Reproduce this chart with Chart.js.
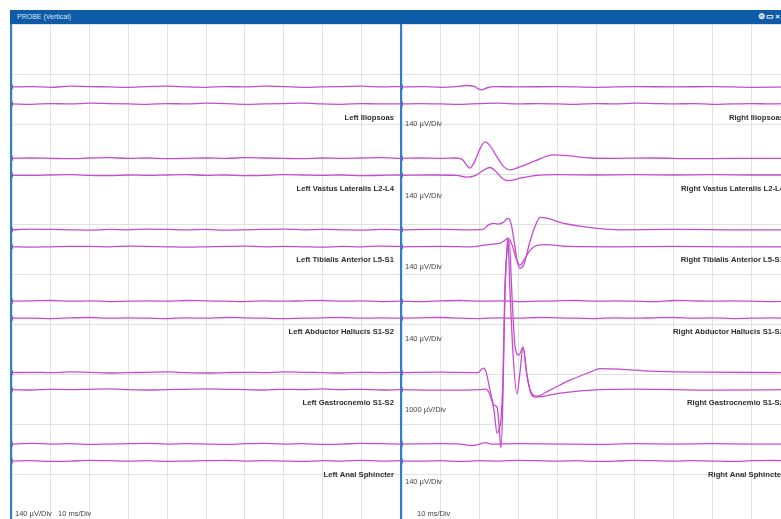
<!DOCTYPE html>
<html>
<head>
<meta charset="utf-8">
<title>PROBE (Vertical)</title>
<script src="https://cdn.jsdelivr.net/npm/chart.js"></script>
<style>
  html, body { margin: 0; width: 781px; height: 519px; overflow: hidden; background: #fff; }
  body { position: relative; font-family: "Liberation Sans", Arial, sans-serif; }
  .titlebar { position: absolute; left: 10px; top: 10px; width: 771px; height: 14px; background: #0e5ca8; }
  .titlebar .name { position: absolute; left: 7px; top: 0; line-height: 14px; font-size: 7px; color: #d6e4f3; }
  .titlebar .icons { position: absolute; right: 0; top: 0; line-height: 14px; font-size: 8px; font-weight: bold; color: #fff; letter-spacing: 1px; }
  .edge { position: absolute; top: 24px; width: 2px; height: 495px; background: #2b82cc; }
  .panel { position: absolute; top: 24px; width: 388px; height: 500px; }
</style>
</head>
<body>
<div class="titlebar"><span class="name">PROBE (Vertical)</span><span class="icons">⚙▭×</span></div>
<canvas id="leftPanel" class="panel" style="left:12px" width="388" height="500"></canvas>
<canvas id="rightPanel" class="panel" style="left:402px" width="388" height="500"></canvas>
<div class="edge" style="left:10px"></div>
<div class="edge" style="left:400px"></div>
<script>
// channel names and vertical sensitivity (µV/Div)
const leftChannels = ['Left Iliopsoas', 'Left Vastus Lateralis L2-L4', 'Left Tibialis Anterior L5-S1',
  'Left Abductor Hallucis S1-S2', 'Left Gastrocnemio S1-S2', 'Left Anal Sphincter'];
const rightChannels = ['Right Iliopsoas', 'Right Vastus Lateralis L2-L4', 'Right Tibialis Anterior L5-S1',
  'Right Abductor Hallucis S1-S2', 'Right Gastrocnemio S1-S2', 'Right Anal Sphincter'];
const leftScale = [140, 140, 140, 140, 140, 140];
const rightScale = [140, 140, 140, 140, 1000, 140];
const msPerDiv = 10;
const sweepMs = 100;

// quiet channels: sample times (ms) and µV
const flatT = [0, 5, 10, 15, 20, 25, 30, 35, 40, 45, 50, 55, 60, 65, 70, 75, 80, 85, 90, 95, 100];
const leftIlioA = [0, 1, -1, 2, 1, 0, -1, 1, 2, 0, -1, 1, 0, 2, 1, -1, 0, 1, 2, 0, 1];
const leftIlioB = [0, -1, 1, 0, 2, 1, 0, -1, 1, 0, 2, 1, -1, 0, 1, 2, 0, -1, 1, 0, 0];
const leftVastA = [0, 1, 0, -1, 1, 2, 0, 1, -1, 0, 1, 0, 2, 1, 0, -1, 1, 0, 1, 2, 0];
const leftVastB = [0, 0, 1, 2, 0, -1, 1, 0, 1, 2, 0, 1, -1, 0, 2, 1, 0, 1, -1, 0, 1];
const leftTibA = [0, 2, 1, 0, -1, 1, 0, 2, 1, 0, 1, -1, 0, 1, 2, 0, 1, 0, -1, 1, 0];
const leftTibB = [0, -1, 0, 1, 1, 0, 2, 1, 0, -1, 0, 1, 2, 0, 1, 0, -1, 1, 0, 2, 1];
const leftAbdA = [0, 1, 2, 0, 1, -1, 0, 1, 0, 2, 1, 0, -1, 1, 0, 1, 2, 0, 1, -1, 0];
const leftAbdB = [0, 0, -1, 1, 2, 0, 1, 0, -1, 1, 0, 2, 1, 0, -1, 0, 1, 2, 0, 1, 0];
const leftGasA = [0, 1, 0, 2, 1, -1, 0, 1, 2, 0, -1, 0, 1, 0, 2, 1, 0, -1, 1, 0, 1];
const leftGasB = [0, -1, 1, 0, 1, 2, 0, -1, 0, 1, 2, 1, 0, -1, 1, 0, 2, 0, 1, -1, 0];
const leftAnalA = [0, 2, 0, 1, -1, 0, 1, 2, 0, 1, 0, -1, 1, 2, 0, 1, -1, 0, 2, 1, 0];
const leftAnalB = [0, 1, -1, 0, 2, 1, 0, 1, -1, 0, 1, 2, 0, 1, 0, -1, 1, 0, 2, 0, 1];
const rightIlioB = [0, 1, 0, -1, 1, 2, 0, 1, 0, -1, 1, 0, 2, 1, 0, 1, -1, 0, 1, 0, 1];
const rightAbdA = [0, -1, 1, 2, 0, 1, -1, 0, 1, 2, 0, 1, 0, -1, 2, 1, 0, 1, 0, -1, 0];
const rightAbdB = [0, 1, 2, 0, -1, 1, 0, 2, 1, 0, -1, 1, 0, 1, 2, 0, 1, -1, 0, 1, 0];
const rightAnalB = [0, 0, 1, -1, 1, 0, 2, 1, 0, 1, -1, 0, 2, 1, 0, 1, 0, -1, 1, 2, 0];

// evoked responses: [ms, µV]
const rightIlioA = [[0, 0], [5, 1], [10, -1], [14, 1], [16.5, 4], [18.5, 2], [19.8, -6], [20.6, -8], [21.8, -3],
  [24, 1], [30, 0], [40, 1], [50, -1], [60, 1], [70, 0], [80, 1], [90, -1], [100, 0]];
const rightVastA = [[0, 0], [5, 1], [10, 0], [13.7, 1], [15.5, -3], [17.5, -27], [18.8, -7], [20.1, 27],
  [21.4, 46], [22.7, 35], [24.5, 4], [26, -21], [27.8, -32], [30.4, -24], [34.3, -7], [38.9, 10], [43.3, 7],
  [48.5, 1], [55, 0], [65, 1], [75, -1], [85, 0], [100, 0]];
const rightVastB = [[0, 0], [8, 1], [14, 0], [16.8, -5], [19, 0], [20.9, 14], [22.7, 22], [24.2, 11],
  [25.8, -8], [27.3, -15], [30.4, -8], [34.8, 0], [40, 2], [50, 1], [60, 2], [70, 1], [80, 2], [90, 1], [100, 1]];
const rightTibA = [[0, 0], [10, 1], [17.5, 0], [20.9, 1], [22.2, 13], [23.5, 18], [24.7, 16], [26, 20],
  [27.3, 32], [28.1, 18], [28.9, -32], [29.6, -83], [30.4, -108], [31.4, -97], [33, -32], [34.3, 10],
  [35.6, 35], [37.6, 32], [40.7, 21], [45.9, 10], [51, 3], [56, 0], [70, 1], [85, 0], [100, 0]];
const rightTibB = [[0, 0], [10, 1], [18, 0], [22.7, 7], [25.3, 10], [26.5, 18], [27.3, 24], [28.4, 4],
  [29.4, -32], [30.4, -52], [31.4, -38], [33, -10], [34.8, 4], [37, 6], [43, 1], [55, 0], [70, 1], [85, 0], [100, 0]];
const rightGasA = [[0, 0], [10, 10], [19.6, 0], [20.9, 90], [21.6, 30], [22.7, -350], [23.7, -650],
  [24.5, -690], [25, -1050], [25.5, -1510], [26, -550], [26.5, 1450], [27.1, 2550], [27.3, 2680],
  [27.8, 1700], [28.6, 400], [29.6, -430], [30.4, 0], [31.2, 510], [32.2, -50], [33.2, -380], [34.8, -470],
  [38.1, -350], [43.3, -150], [48.5, 10], [51, 80], [56.2, 70], [63.9, 30], [76.8, 10], [100, 0]];
const rightGasB = [[0, 0], [10, -10], [20, 0], [21.6, 10], [22.7, -110], [23.7, -410], [24.5, -870],
  [25, -800], [25.5, -600], [26, 190], [26.5, 1990], [27.1, 2790], [27.6, 2990], [28.4, 1790],
  [29.1, 890], [30.1, 690], [31.2, 850], [32.2, 290], [33.2, -70], [34.5, -150],
  [40.7, -70], [51, 0], [60, 10], [80, -10], [100, 0]];
const rightAnalA = [[0, 0], [10, 1], [15, 0], [18, -4], [20, 0], [21.5, 4], [23, 0], [30, 1], [40, 0],
  [50, -1], [60, 1], [70, 0], [80, 1], [90, 0], [100, 0]];

const TRACE_COLOR = '#c64ccf';
const GRID_COLOR = '#e2e2e2';
const TRACE_GAP = 8.5; // px above / below the channel centre

const fromFlat = vals => vals.map((v, i) => ({ x: flatT[i], y: v }));
const fromPairs = pairs => pairs.map(p => ({ x: p[0], y: p[1] }));

const leftTraces = [
  [fromFlat(leftIlioA), fromFlat(leftIlioB)],
  [fromFlat(leftVastA), fromFlat(leftVastB)],
  [fromFlat(leftTibA), fromFlat(leftTibB)],
  [fromFlat(leftAbdA), fromFlat(leftAbdB)],
  [fromFlat(leftGasA), fromFlat(leftGasB)],
  [fromFlat(leftAnalA), fromFlat(leftAnalB)]
];
const rightTraces = [
  [fromPairs(rightIlioA), fromFlat(rightIlioB)],
  [fromPairs(rightVastA), fromPairs(rightVastB)],
  [fromPairs(rightTibA), fromPairs(rightTibB)],
  [fromFlat(rightAbdA), fromFlat(rightAbdB)],
  [fromPairs(rightGasA), fromPairs(rightGasB)],
  [fromPairs(rightAnalA), fromFlat(rightAnalB)]
];

// text drawn on top of the traces: channel names, sensitivity, sweep
const labelPlugin = {
  id: 'channelLabels',
  afterDatasetsDraw(chart, args, opts) {
    const { ctx, chartArea } = chart;
    const h = chartArea.bottom - chartArea.top;
    ctx.save();
    opts.names.forEach((name, k) => {
      const cy = chartArea.top + h * (k + 1) / 7;
      ctx.font = 'bold 7.7px "Liberation Sans", Arial, sans-serif';
      ctx.fillStyle = '#2e2e2e';
      ctx.textAlign = 'right';
      ctx.textBaseline = 'middle';
      ctx.fillText(name, chartArea.right - 6, cy + 22);
      if (opts.showScale) {
        ctx.font = '7.5px "Liberation Sans", Arial, sans-serif';
        ctx.fillStyle = '#444';
        ctx.textAlign = 'left';
        ctx.fillText(opts.scales[k] + ' µV/Div', chartArea.left + 3, cy + 29);
      }
    });
    ctx.font = '7.5px "Liberation Sans", Arial, sans-serif';
    ctx.fillStyle = '#444';
    ctx.textAlign = 'left';
    ctx.textBaseline = 'middle';
    opts.footer.forEach(f => ctx.fillText(f.text, chartArea.left + f.dx, chartArea.top + 490));
    ctx.restore();
  }
};

function makePanel(id, names, scaleList, traces, showScale, footer) {
  const H = 500;
  const pxPerDiv = H / 10;
  const scales = {
    x: {
      type: 'linear', min: 0, max: sweepMs,
      ticks: { display: false, stepSize: msPerDiv },
      grid: { color: GRID_COLOR, drawTicks: false },
      border: { display: false }
    },
    grid: {
      type: 'linear', position: 'left', min: 0, max: 10, reverse: true,
      ticks: { display: false, stepSize: 1 },
      grid: { color: GRID_COLOR, drawTicks: false },
      border: { display: false }
    }
  };
  const datasets = [];
  traces.forEach((pair, k) => {
    const centre = H * (k + 1) / 7;
    pair.forEach((pts, j) => {
      const base = centre + (j === 0 ? -TRACE_GAP : TRACE_GAP);
      const axisId = 'c' + k + (j === 0 ? 'a' : 'b');
      const uvPerPx = scaleList[k] / pxPerDiv;
      scales[axisId] = {
        type: 'linear', display: false,
        min: -(H - base) * uvPerPx,
        max: base * uvPerPx
      };
      datasets.push({
        label: names[k] + (j === 0 ? ' (1)' : ' (2)'),
        data: pts,
        yAxisID: axisId,
        borderColor: TRACE_COLOR,
        borderWidth: 1.3,
        cubicInterpolationMode: 'monotone',
        pointStyle: 'line',
        rotation: 90,
        pointBorderColor: '#8e3aa0',
        pointBorderWidth: 1.5,
        pointRadius: c => (c.dataIndex === 0 ? 2.5 : 0),
        pointHoverRadius: 0,
        clip: false
      });
    });
  });

  return new Chart(document.getElementById(id), {
    type: 'line',
    data: { datasets },
    options: {
      responsive: false,
      animation: false,
      events: [],
      layout: { padding: 0, autoPadding: false },
      scales,
      plugins: {
        legend: { display: false },
        tooltip: { enabled: false },
        channelLabels: { names, scales: scaleList, showScale, footer }
      }
    },
    plugins: [labelPlugin]
  });
}

makePanel('leftPanel', leftChannels, leftScale, leftTraces, false,
  [{ text: leftScale[0] + ' µV/Div', dx: 3 }, { text: msPerDiv + ' ms/Div', dx: 46 }]);
makePanel('rightPanel', rightChannels, rightScale, rightTraces, true,
  [{ text: msPerDiv + ' ms/Div', dx: 15 }]);
</script>
</body>
</html>
